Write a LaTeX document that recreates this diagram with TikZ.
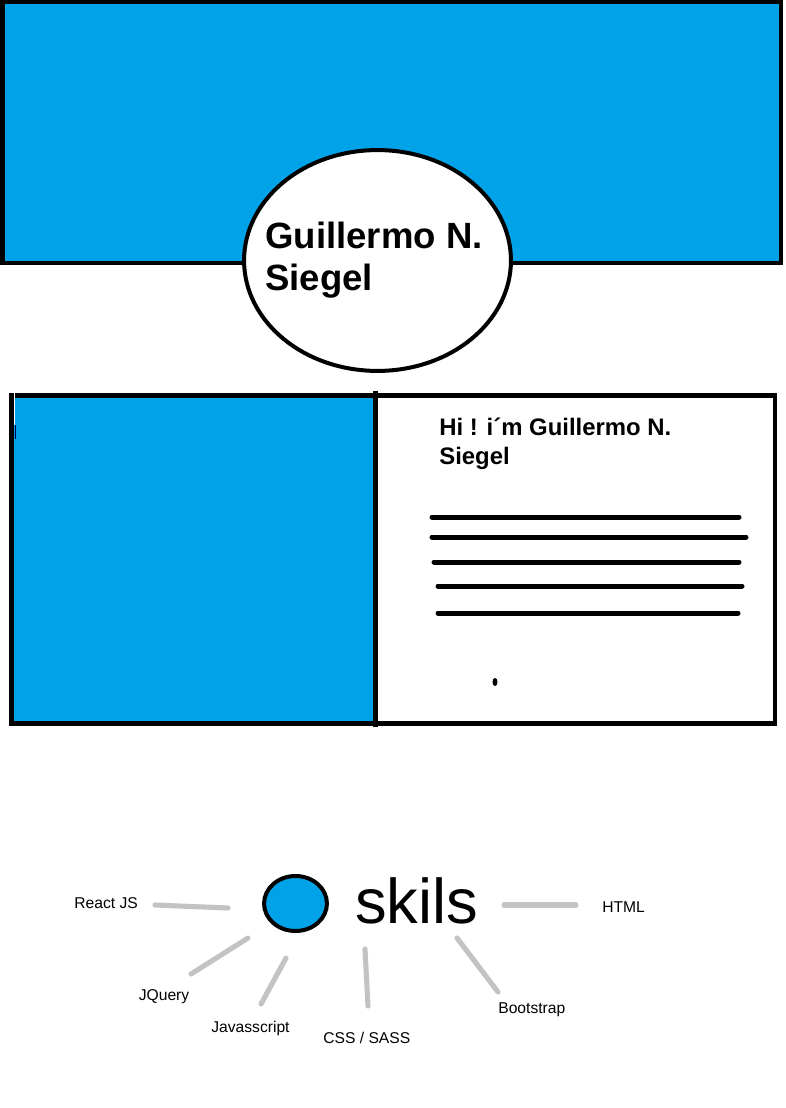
\documentclass[tikz,border=0pt]{standalone}
\usepackage{fontspec}
\setmainfont{Liberation Sans}
\usetikzlibrary{shapes.geometric}
\definecolor{paintblue}{RGB}{0,162,232}
\definecolor{paintgray}{RGB}{195,195,195}
\begin{document}
\begin{tikzpicture}[x=0.02cm,y=-0.02cm,
  box/.style={draw=black,line width=2.56pt},
  textline/.style={line width=2.85pt,line cap=round},
  spoke/.style={draw=paintgray,line width=2.9pt,line cap=round},
  skill/.style={font=\fontsize{8.9}{10.7}\selectfont,inner sep=0,anchor=base west},
  bubble/.style={draw=black,ellipse,line width=2.28pt,inner sep=0},
]
\useasboundingbox (0,0) rectangle (786,1108);
\fill[white] (0,0) rectangle (786,1108);
% header
\draw[box,fill=paintblue] (2.5,2) rectangle (781,263);
\node[bubble,fill=white,minimum width=151.9pt,minimum height=125.7pt] (namebubble) at (377.5,260.5) {};
\node[font=\bfseries\fontsize{20.8}{23.9}\selectfont,align=left,anchor=base west,inner sep=0] (name) at (265,290) {Guillermo N.\\Siegel};
% card
\fill[paintblue] (11.5,395.5) rectangle (375.5,723.5);
\draw[box] (11.5,395.5) rectangle (775,723.5);
\draw[line width=2.56pt] (375.5,391) -- (375.5,727);
\draw[white,line width=0.6pt] (14.7,393) -- (14.7,425);
\draw[black!70!blue,line width=0.6pt] (15.2,425) -- (15.2,439);
\node[font=\bfseries\fontsize{13.6}{16.5}\selectfont,align=left,anchor=base west,inner sep=0] (hi) at (439,464) {Hi ! i´m Guillermo N.\\Siegel};
\draw[textline] (432,517) -- (739,517);
\draw[textline] (432,537) -- (746,537);
\draw[textline] (434,562) -- (739,562);
\draw[textline] (438,586) -- (742,586);
\draw[textline] (438,613) -- (738,613);
\fill (495,682) ellipse [x radius=1.4pt, y radius=2.3pt];
% skills
\node[bubble,fill=paintblue,minimum width=35.8pt,minimum height=31.3pt] (skdot) at (295.5,903.5) {};
\node[font=\fontsize{36}{43}\selectfont,inner sep=0,anchor=base west] (skills) at (355,923) {skils};
\node[skill] (react) at (74,908) {React JS};
\node[skill] (jquery) at (138.5,1000) {JQuery};
\node[skill] (js) at (211,1032) {Javasscript};
\node[skill] (css) at (323,1043) {CSS / SASS};
\node[skill] (boot) at (498,1013) {Bootstrap};
\node[skill] (html) at (602,912) {HTML};
\coordinate (reactA) at (228,908); \coordinate (reactB) at (155,905);
\coordinate (jqA) at (248,938);    \coordinate (jqB) at (191,974);
\coordinate (jsA) at (286,958);    \coordinate (jsB) at (261,1004);
\coordinate (cssA) at (365,949);   \coordinate (cssB) at (368,1006);
\coordinate (htmlA) at (504,905);  \coordinate (htmlB) at (576,905);
\coordinate (bootA) at (457,938);  \coordinate (bootB) at (498,992);
\draw[spoke] (reactA) -- (reactB);
\draw[spoke] (jqA) -- (jqB);
\draw[spoke] (jsA) -- (jsB);
\draw[spoke] (cssA) -- (cssB);
\draw[spoke] (htmlA) -- (htmlB);
\draw[spoke] (bootA) -- (bootB);
\end{tikzpicture}
\end{document}
